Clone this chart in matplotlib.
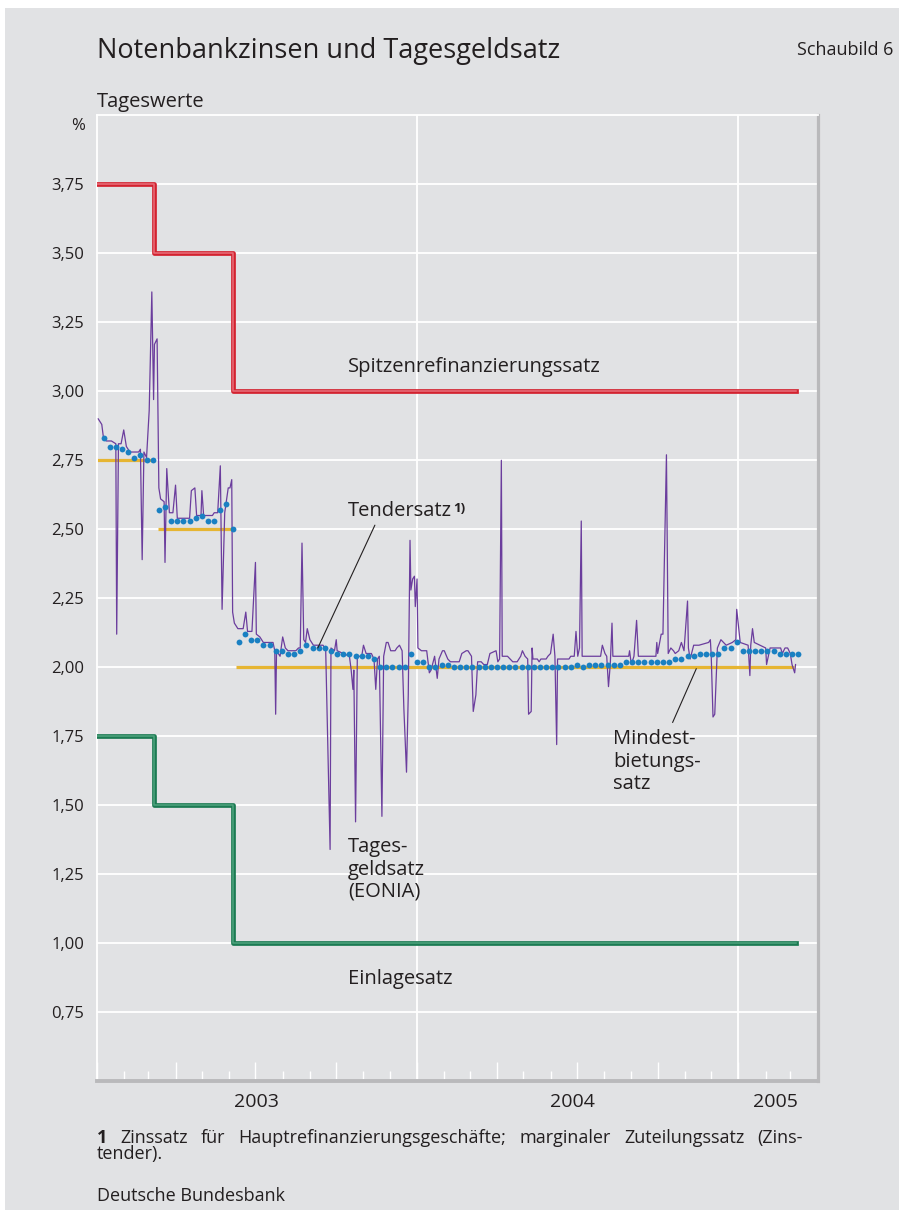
import numpy as np
import matplotlib
matplotlib.use('Agg')
import matplotlib.pyplot as plt
import matplotlib.dates as mdates
from matplotlib.patches import Rectangle

plt.rcParams['font.family'] = ['Open Sans', 'DejaVu Sans']

# ---------------- data ----------------
BASE = np.datetime64('2003-01-01')

# policy rates (step series, change dates)
policy_dates = ['2003-01-01', '2003-03-07', '2003-06-06', '2005-03-08']
mlf_rate = [3.75, 3.50, 3.00, 3.00]          # Spitzenrefinanzierungssatz
deposit_rate = [1.75, 1.50, 1.00, 1.00]      # Einlagesatz

# minimum bid rate segments (Mindestbietungssatz)
minbid_start = ['2003-01-01', '2003-03-12', '2003-06-09']
minbid_end = ['2003-03-06', '2003-06-05', '2005-03-05']
minbid_rate = [2.75, 2.50, 2.00]

# marginal tender rate, weekly tenders (Tendersatz)
tender_first = '2003-01-09'
tender_rate = [2.83, 2.80, 2.80, 2.79, 2.78, 2.76, 2.77, 2.75, 2.75,
               2.57, 2.58, 2.53, 2.53, 2.53, 2.53, 2.54, 2.55, 2.53, 2.53, 2.57, 2.59, 2.50,
               2.09, 2.12, 2.10, 2.10, 2.08, 2.08, 2.06, 2.06, 2.05, 2.05, 2.06, 2.08,
               2.07, 2.07, 2.07, 2.06, 2.05, 2.05, 2.05, 2.04, 2.04, 2.04, 2.03,
               2.00, 2.00, 2.00, 2.00, 2.00,
               2.05, 2.02, 2.02, 2.00, 2.00, 2.01, 2.01,
               2.00, 2.00, 2.00, 2.00, 2.00, 2.00, 2.00, 2.00, 2.00, 2.00,
               2.00, 2.00, 2.00, 2.00, 2.00, 2.00, 2.00, 2.00, 2.00, 2.00,
               2.01, 2.00, 2.01, 2.01, 2.01, 2.01, 2.01, 2.01,
               2.02, 2.02, 2.02, 2.02, 2.02, 2.02, 2.02, 2.02,
               2.03, 2.03, 2.04, 2.04, 2.05, 2.05, 2.05, 2.05,
               2.07, 2.07, 2.09, 2.06, 2.06, 2.06, 2.06, 2.06, 2.06,
               2.05, 2.05, 2.05, 2.05]

# EONIA (Tagesgeldsatz): vertices, days after 2003-01-01
eonia_day = [2, 6, 8, 11, 17, 22, 23, 25, 28, 31, 34, 38, 48, 50, 52, 54, 57, 60, 63, 65,
             66, 69, 71, 73, 77, 78, 80, 83, 87, 90, 92, 106, 108, 112, 114, 119, 120, 122, 132, 134,
             138, 141, 143, 146, 150, 152, 154, 155, 157, 161, 167, 170, 172, 177, 181, 182, 186, 190, 201, 203,
             204, 205, 209, 212, 215, 218, 227, 230, 232, 234, 236, 238, 240, 243, 247, 258, 261, 266, 267, 271,
             273, 274, 288, 290, 292, 293, 295, 297, 302, 304, 307, 313, 316, 318, 320, 322, 325, 327, 330, 332,
             335, 340, 342, 345, 348, 350, 353, 355, 357, 358, 360, 362, 363, 365, 366, 370, 376, 379, 381, 385,
             388, 390, 394, 396, 400, 403, 413, 416, 421, 423, 427, 429, 432, 434, 438, 441, 445, 448, 455, 457,
             459, 461, 462, 468, 474, 479, 483, 485, 488, 491, 492, 495, 496, 497, 502, 504, 506, 512, 514, 517,
             520, 522, 524, 525, 538, 540, 544, 546, 548, 550, 552, 553, 574, 576, 579, 581, 583, 585, 587, 588,
             606, 607, 609, 612, 615, 617, 637, 638, 639, 643, 645, 649, 651, 654, 657, 659, 663, 666, 669, 673,
             674, 676, 680, 686, 697, 699, 700, 702, 704, 707, 711, 714, 717, 724, 728, 729, 731, 733, 742, 744,
             745, 747, 749, 762, 763, 765, 767, 779, 781, 784, 787, 790, 792, 795, 796]
eonia_rate = [2.90, 2.88, 2.83, 2.82, 2.82, 2.81, 2.12, 2.81, 2.81, 2.86, 2.80, 2.78, 2.78, 2.79, 2.39, 2.78, 2.76, 2.93, 3.36, 2.97,
              3.17, 3.19, 2.65, 2.61, 2.60, 2.38, 2.72, 2.56, 2.56, 2.66, 2.54, 2.54, 2.64, 2.65, 2.55, 2.55, 2.64, 2.55, 2.55, 2.56,
              2.56, 2.73, 2.21, 2.56, 2.65, 2.65, 2.68, 2.20, 2.16, 2.14, 2.14, 2.20, 2.13, 2.13, 2.38, 2.12, 2.11, 2.09, 2.09, 2.06,
              1.83, 2.06, 2.04, 2.11, 2.07, 2.06, 2.06, 2.07, 2.07, 2.45, 2.10, 2.09, 2.14, 2.10, 2.08, 2.08, 2.06, 1.34, 2.07, 2.06,
              2.10, 2.06, 2.04, 1.99, 1.92, 1.99, 1.44, 2.04, 2.04, 2.08, 2.05, 2.05, 2.03, 1.92, 2.03, 2.04, 1.46, 2.04, 2.09, 2.09,
              2.06, 2.06, 2.07, 2.08, 2.06, 1.85, 1.62, 1.90, 2.46, 2.28, 2.32, 2.33, 2.22, 2.32, 2.07, 2.06, 2.06, 1.98, 1.99, 2.04,
              1.96, 2.03, 2.06, 2.06, 2.03, 2.02, 2.02, 2.05, 2.06, 2.06, 2.04, 1.84, 1.90, 2.02, 2.02, 2.01, 2.01, 2.05, 2.06, 2.02,
              2.03, 2.75, 2.04, 2.04, 2.02, 2.02, 2.04, 2.06, 2.04, 2.03, 1.83, 1.84, 2.07, 2.03, 2.03, 2.02, 2.03, 2.03, 2.04, 2.05,
              2.12, 2.04, 1.72, 2.03, 2.03, 2.04, 2.04, 2.13, 2.04, 2.07, 2.53, 2.04, 2.04, 2.08, 2.05, 2.04, 1.93, 2.01, 2.16, 2.04,
              2.04, 2.06, 2.01, 2.04, 2.17, 2.04, 2.04, 2.09, 2.05, 2.12, 2.12, 2.77, 2.05, 2.07, 2.06, 2.05, 2.06, 2.09, 2.06, 2.24,
              2.07, 2.03, 2.08, 2.08, 2.09, 2.10, 2.04, 1.82, 1.83, 2.07, 2.10, 2.09, 2.08, 2.09, 2.10, 2.21, 2.15, 2.09, 2.08, 1.97,
              2.08, 2.14, 2.09, 2.07, 2.01, 2.04, 2.07, 2.07, 2.05, 2.07, 2.07, 2.05, 2.01, 1.98, 2.01]

y_ticks = [0.75, 1.00, 1.25, 1.50, 1.75, 2.00, 2.25, 2.50, 2.75, 3.00, 3.25, 3.50, 3.75]
year_lines = ['2004-01-01', '2005-01-01']
year_labels = ['2003', '2004', '2005']
year_label_pos = ['2003-07-02', '2004-06-26', '2005-02-12']

# ---------------- layout ----------------
W, H = 899, 1210
BG = '#e1e2e4'
TXT = '#231f20'


def fx(px):
    return px / W


def fy(py):
    return 1 - py / H


fig = plt.figure(figsize=(W / 100, H / 100), dpi=100, facecolor='white')
fig.patches.append(Rectangle((fx(5), 0), 1 - fx(5), fy(8), transform=fig.transFigure,
                             facecolor=BG, edgecolor='none', zorder=-10))

ax = fig.add_axes([fx(96.5), fy(1081.3), fx(817.5) - fx(96.5), fy(115.3) - fy(1081.3)])
ax.set_facecolor(BG)
ax.set_xlim(np.datetime64('2003-01-01'), np.datetime64('2005-04-01'))
ax.set_ylim(0.5, 4.0)

# grid
ax.set_yticks(y_ticks)
ax.set_yticklabels([f'{v:.2f}'.replace('.', ',') for v in y_ticks])
ax.yaxis.grid(True, color='white', lw=1.3, zorder=0)
ax.set_axisbelow(True)
for d in year_lines:
    ax.axvline(np.datetime64(d), color='white', lw=1.3, zorder=0.5)

for s in ['left', 'top']:
    ax.spines[s].set_color('white')
    ax.spines[s].set_linewidth(1.3)
ax.spines['right'].set_color('#b9b9bb')
ax.spines['right'].set_linewidth(2.3)
ax.spines['bottom'].set_color('#b9b9bb')
ax.spines['bottom'].set_linewidth(2.8)

ax.tick_params(axis='y', length=0, pad=9, labelsize=12, labelcolor=TXT)
ax.xaxis.set_major_locator(mdates.MonthLocator(bymonth=[1, 4, 7, 10]))
ax.xaxis.set_minor_locator(mdates.MonthLocator())
ax.tick_params(axis='x', which='major', direction='in', length=13.7, width=1.0,
               color='white', labelbottom=False)
ax.tick_params(axis='x', which='minor', direction='in', length=7.2, width=1.0, color='white')

# ---------------- series ----------------
pdates = np.array(policy_dates, dtype='datetime64[D]')
ax.step(pdates, mlf_rate, where='post', color='#d3222f', lw=3.4, zorder=3)
ax.step(pdates, mlf_rate, where='post', color='#e7707b', lw=1.1, zorder=3.1)
ax.step(pdates, deposit_rate, where='post', color='#1b7a52', lw=3.4, zorder=3)
ax.step(pdates, deposit_rate, where='post', color='#4fa37e', lw=1.1, zorder=3.1)

for s, e, v in zip(minbid_start, minbid_end, minbid_rate):
    ax.plot([np.datetime64(s), np.datetime64(e)], [v, v], color='#e6b532', lw=2.3,
            solid_capstyle='butt', zorder=2)

eonia_dates = BASE + np.array(eonia_day).astype('timedelta64[D]')
ax.plot(eonia_dates, eonia_rate, color='#6b3d9d', lw=0.9, zorder=4)

tender_dates = np.datetime64(tender_first) + (7 * np.arange(len(tender_rate))).astype('timedelta64[D]')
ax.plot(tender_dates, tender_rate, 'o', color='#1a80c2', ms=4.2, mec='none', zorder=5)

# year labels
for lab, pos in zip(year_labels, year_label_pos):
    ax.text(np.datetime64(pos), -0.012, lab, transform=ax.get_xaxis_transform(),
            ha='center', va='top', fontsize=14, color=TXT)

# leader lines
ax.annotate('', xy=(np.datetime64('2003-09-10'), 2.07), xytext=(np.datetime64('2003-11-14'), 2.515),
            arrowprops=dict(arrowstyle='-', lw=0.8, color=TXT, shrinkA=0, shrinkB=0), zorder=6)
ax.annotate('', xy=(np.datetime64('2004-11-14'), 1.995), xytext=(np.datetime64('2004-10-18'), 1.80),
            arrowprops=dict(arrowstyle='-', lw=0.8, color=TXT, shrinkA=0, shrinkB=0), zorder=6)

# ---------------- texts ----------------
def ftext(x, y, s, size=14.5, **kw):
    return fig.text(fx(x), fy(y), s, fontsize=size, color=TXT, va='baseline', ha='left', **kw)


ftext(97, 58, 'Notenbankzinsen und Tagesgeldsatz', size=19.5)
fig.text(fx(893), fy(55), 'Schaubild 6', fontsize=13, color=TXT, va='baseline', ha='right')
ftext(97, 107, 'Tageswerte', size=14.5)
fig.text(fx(85), fy(130), '%', fontsize=12, color=TXT, va='baseline', ha='right')

ftext(348, 372, 'Spitzenrefinanzierungssatz')
ftext(348, 516, 'Tendersatz')
ftext(453, 512, '1)', size=9.5, fontweight='bold')
for i, line in enumerate(['Mindest-', 'bietungs-', 'satz']):
    ftext(613, 744 + 22.5 * i, line)
for i, line in enumerate(['Tages-', 'geldsatz', '(EONIA)']):
    ftext(348, 852 + 22.5 * i, line)
ftext(348, 984, 'Einlagesatz')

# footnote (justified first line)
FN = 13
words = ['1', 'Zinssatz', 'für', 'Hauptrefinanzierungsgeschäfte;', 'marginaler', 'Zuteilungssatz', '(Zins-']
texts = []
for i, w in enumerate(words):
    texts.append(ftext(97, 1143, w, size=FN, fontweight='bold' if i == 0 else 'normal'))
fig.canvas.draw()
rend = fig.canvas.get_renderer()
widths = [t.get_window_extent(rend).width for t in texts]
gap = (803 - 97 - sum(widths)) / (len(words) - 1)
xcur = 97
for t, wd in zip(texts, widths):
    t.set_x(fx(xcur))
    xcur += wd + gap
ftext(97, 1159, 'tender).', size=FN)
ftext(97, 1201, 'Deutsche Bundesbank', size=FN)

fig.savefig('out.png', dpi=100, facecolor=fig.get_facecolor())
